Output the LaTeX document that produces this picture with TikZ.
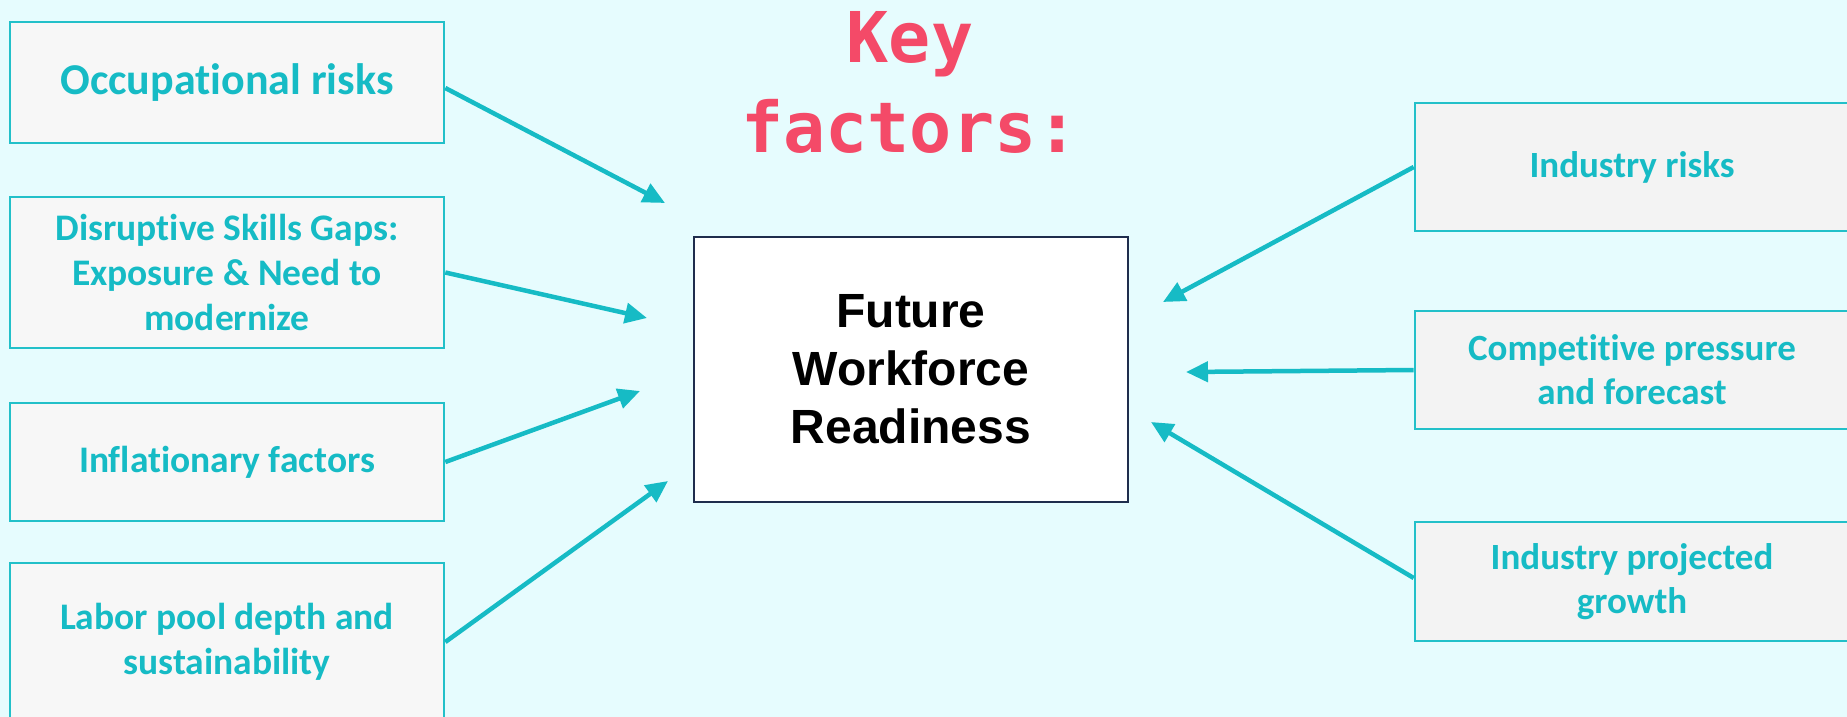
\documentclass[tikz,border=0pt]{standalone}
\usepackage{fontspec}
\setmainfont{Carlito}[Ligatures={NoCommon}]
\newfontfamily\headfont{Liberation Sans}
\newfontfamily\titlefont{DejaVu Sans Mono}
\usetikzlibrary{arrows.meta}

\definecolor{bgcyan}{HTML}{E6FCFE}
\definecolor{teal}{HTML}{16BBC5}
\definecolor{boxedge}{HTML}{22C0C9}
\definecolor{leftfill}{HTML}{F7F7F7}
\definecolor{rightfill}{HTML}{F3F3F3}
\definecolor{navy}{HTML}{1F2D4D}
\definecolor{titlered}{HTML}{F44A68}

\tikzset{
  factorbox/.style={draw=boxedge, line width=2.6pt, text=teal,
    minimum width=434pt, align=center, inner sep=0pt,
    font=\bfseries\fontsize{37.5}{45}\selectfont},
  factorleft/.style={factorbox, fill=leftfill},
  factorright/.style={factorbox, fill=rightfill,
    font=\bfseries\fontsize{37}{44}\selectfont},
  largetext/.style={font=\bfseries\fontsize{44}{46}\selectfont},
  hub/.style={draw=navy, line width=2.6pt, fill=white, text=black,
    minimum width=434pt, minimum height=265pt, align=center, inner sep=0pt,
    font=\headfont\bfseries\fontsize{48}{58}\selectfont},
  titletext/.style={text=titlered, inner sep=0pt, anchor=base,
    font=\titlefont\bfseries\fontsize{70}{80}\selectfont},
  flow/.style={draw=teal, line width=4.5pt,
    -{Triangle[length=22pt,width=20pt]}}
}

\begin{document}
\begin{tikzpicture}[x=1pt,y=-1pt]
  \fill[bgcyan] (0,0) rectangle (1847,717);
  \useasboundingbox (0,0) rectangle (1847,717);
  \clip (0,0) rectangle (1847,717);

  % heading
  \node[titletext] (key) at (910,63) {Key};
  \node[titletext] (factors) at (910,152) {factors:};

  % central box
  \node[hub] (hub) at (911,369.5) {Future\\Workforce\\Readiness};

  % factors on the left
  \node[factorleft, largetext, minimum height=121pt] (occ) at (227,82.5) {Occupational risks};
  \node[factorleft, minimum height=151pt] (skills) at (227,272.5)
    {Disruptive Skills Gaps:\\Exposure \& Need to\\modernize};
  \node[factorleft, minimum height=118pt] (infl) at (227,462) {Inflationary factors};
  \node[factorleft, minimum height=158pt] (labor) at (227,642)
    {Labor pool depth and\\sustainability};

  % factors on the right
  \node[factorright, minimum height=128pt] (indrisk) at (1632,167) {Industry risks};
  \node[factorright, minimum height=118pt] (compet) at (1632,370)
    {Competitive pressure\\and forecast};
  \node[factorright, minimum height=119pt] (growth) at (1632,581.5)
    {Industry projected\\growth};

  % arrow tips around the central box
  \coordinate (tipA) at (665,203);
  \coordinate (tipB) at (647,318);
  \coordinate (tipC) at (640,391);
  \coordinate (tipD) at (668,481);
  \coordinate (tipE) at (1163,302);
  \coordinate (tipF) at (1186,372);
  \coordinate (tipG) at (1151,422);

  \draw[flow] (occ.east |- 0,88) -- (tipA);
  \draw[flow] (skills.east) -- (tipB);
  \draw[flow] (infl.east) -- (tipC);
  \draw[flow] (labor.east) -- (tipD);
  \draw[flow] (indrisk.west) -- (tipE);
  \draw[flow] (compet.west) -- (tipF);
  \draw[flow] (growth.west |- 0,578) -- (tipG);
\end{tikzpicture}
\end{document}
